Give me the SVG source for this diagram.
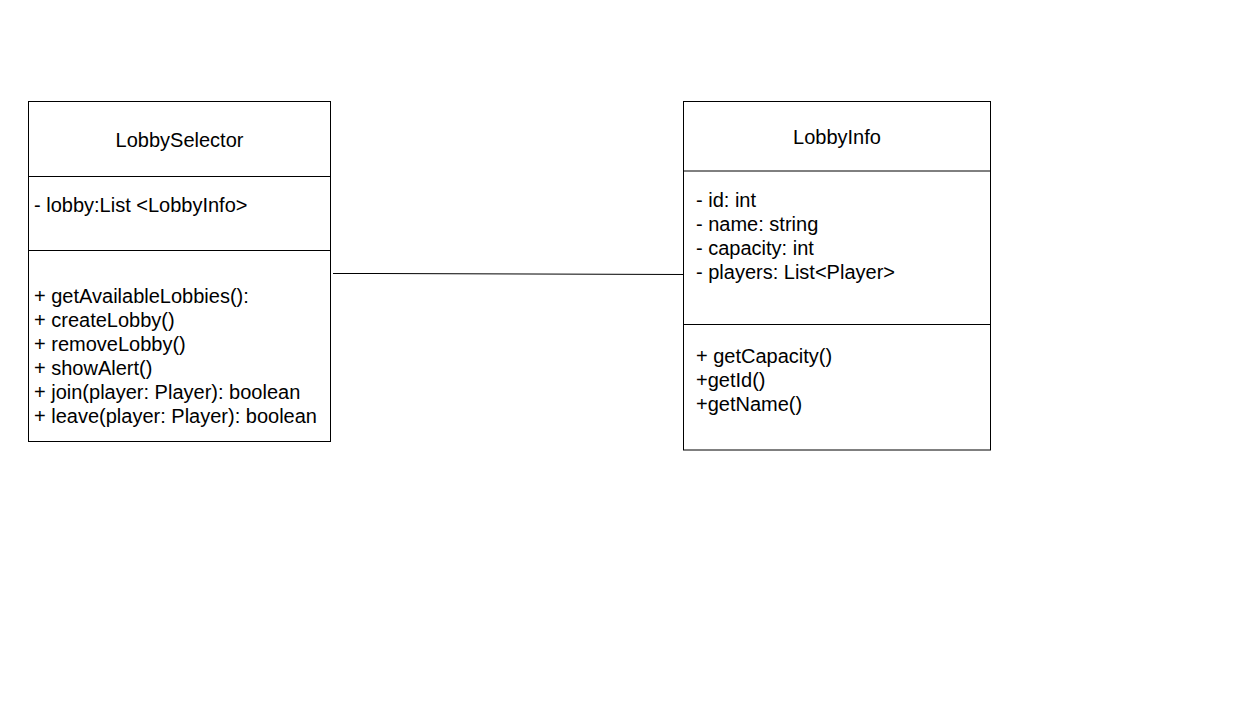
<svg xmlns="http://www.w3.org/2000/svg" width="1256" height="728" viewBox="0 0 1256 728">
  <style>
    .box { fill: #ffffff; stroke: #000000; stroke-width: 1; }
    .sep { stroke: #000000; stroke-width: 1; fill: none; }
    .edge { stroke: #000000; stroke-width: 1; fill: none; }
    text { font-family: "Liberation Sans", Arial, sans-serif; font-size: 20px; fill: #000000; }
    .title { text-anchor: middle; }
  </style>
  <rect width="1256" height="728" fill="#ffffff"/>

  <!-- connectors -->
  <g id="connectors">
    <polyline class="edge" points="333,273.5 375,273.5 685,274.5"/>
  </g>

  <!-- class: LobbySelector -->
  <g id="LobbySelector">
    <rect class="box" x="28.5" y="101.5" width="302" height="340"/>
    <line class="sep" x1="28.5" y1="176.5" x2="330.5" y2="176.5"/>
    <line class="sep" x1="28.5" y1="250.5" x2="330.5" y2="250.5"/>
    <text class="title" x="179.5" y="147">LobbySelector</text>
    <text x="34" y="212">- lobby:List &lt;LobbyInfo&gt;</text>
    <text x="34" y="303">+ getAvailableLobbies():</text>
    <text x="34" y="327">+ createLobby()</text>
    <text x="34" y="351">+ removeLobby()</text>
    <text x="34" y="375">+ showAlert()</text>
    <text x="34" y="399">+ join(player: Player): boolean</text>
    <text x="34" y="423">+ leave(player: Player): boolean</text>
  </g>

  <!-- class: LobbyInfo -->
  <g id="LobbyInfo">
    <rect class="box" x="683.5" y="101.5" width="307" height="348.5"/>
    <line class="sep" x1="683.5" y1="171" x2="990.5" y2="171"/>
    <line class="sep" x1="683.5" y1="324.5" x2="990.5" y2="324.5"/>
    <text class="title" x="837" y="144">LobbyInfo</text>
    <text x="696" y="207">- id: int</text>
    <text x="696" y="231">- name: string</text>
    <text x="696" y="255">- capacity: int</text>
    <text x="696" y="279">- players: List&lt;Player&gt;</text>
    <text x="696" y="363">+ getCapacity()</text>
    <text x="696" y="387">+getId()</text>
    <text x="696" y="411">+getName()</text>
  </g>
</svg>
